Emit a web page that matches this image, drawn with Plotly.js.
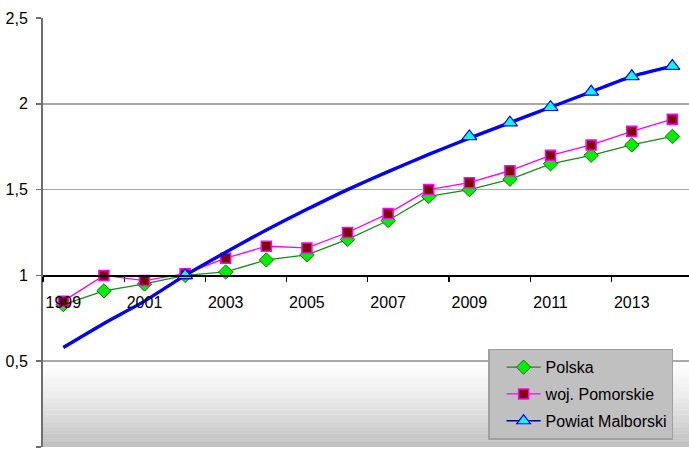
<!DOCTYPE html>
<html>
<head>
<meta charset="utf-8">
<script src="https://cdn.plot.ly/plotly-3.0.1.min.js"></script>
<style>
html,body{margin:0;padding:0;background:#fff;}
#chart{width:689px;height:451px;}
</style>
</head>
<body>
<div id="chart"></div>
<script>
const years = [1999,2000,2001,2002,2003,2004,2005,2006,2007,2008,2009,2010,2011,2012,2013,2014];
const polska = [0.83,0.91,0.95,1.00,1.02,1.09,1.12,1.21,1.32,1.46,1.50,1.56,1.65,1.70,1.76,1.81];
const pomorskie = [0.85,1.00,0.97,1.01,1.10,1.17,1.16,1.25,1.36,1.50,1.54,1.61,1.70,1.76,1.84,1.91];
const malborskiLine = [0.58,0.72,0.85,1.00,1.135,1.265,1.385,1.50,1.605,1.705,1.80,1.89,1.98,2.07,2.16,2.22];
const malborskiMarkerYears = [2002,2009,2010,2011,2012,2013,2014];
const malborskiMarkers = [1.00,1.81,1.89,1.98,2.07,2.16,2.22];
const xLabelYears = [1999,2001,2003,2005,2007,2009,2011,2013];
const xLabelText = ['1999','2001','2003','2005','2007','2009','2011','2013'];
const xTickBoundaries = [1998.5,2000.5,2002.5,2004.5,2006.5,2008.5,2010.5,2012.5,2014.5];
const yTicks = [0,0.5,1,1.5,2,2.5];
const seriesNames = ['Polska','woj. Pomorskie','Powiat Malborski'];

const FONT = 'Liberation Sans, Arial, sans-serif';

// background gradient below 0.5 (white -> grey), drawn as thin bands
const gradShapes = [];
const BANDS = 50;
for (let i = 0; i < BANDS; i++) {
  const t = Math.pow((i + 0.5) / BANDS, 1.3);
  const c = Math.round(255 - t * (255 - 190));
  gradShapes.push({
    type: 'rect', xref: 'paper', yref: 'y', layer: 'below',
    x0: 0, x1: 1, y0: 0.5 - i * 0.5 / BANDS, y1: 0.5 - (i + 1) * 0.5 / BANDS - 0.002,
    fillcolor: 'rgb(' + c + ',' + c + ',' + c + ')', line: {width: 0}
  });
}

const traces = [
  {
    x: years, y: polska, name: seriesNames[0], type: 'scatter', mode: 'lines+markers',
    legendgroup: 'a',
    line: {color: '#1a8a1a', width: 1.3},
    marker: {symbol: 'diamond', size: 11, color: '#00ee00', line: {color: '#0b7a0b', width: 1}}
  },
  {
    x: years, y: pomorskie, name: seriesNames[1], type: 'scatter', mode: 'lines+markers',
    legendgroup: 'b',
    line: {color: '#ff00ff', width: 1.3},
    marker: {symbol: 'square', size: 10, color: '#800000', line: {color: '#ff00ff', width: 1.5}}
  },
  {
    x: years, y: malborskiLine, name: seriesNames[2], type: 'scatter', mode: 'lines',
    legendgroup: 'c', showlegend: false,
    line: {color: '#0000ff', width: 3.4, shape: 'spline', smoothing: 0.5}
  },
  {
    x: malborskiMarkerYears, y: malborskiMarkers, name: seriesNames[2], type: 'scatter', mode: 'markers',
    legendgroup: 'c', showlegend: false,
    marker: {symbol: 'triangle-up', size: 13, color: '#00ffff', line: {color: '#0000ff', width: 1.2}}
  },
  {
    x: [null], y: [null], name: seriesNames[2], type: 'scatter', mode: 'lines+markers',
    legendgroup: 'c',
    line: {color: '#000080', width: 1.3},
    marker: {symbol: 'triangle-up', size: 12, color: '#00ffff', line: {color: '#0000ff', width: 1.2}}
  }
];

const layout = {
  width: 689, height: 451,
  margin: {l: 43, r: 0, t: 18, b: 4, pad: 0},
  paper_bgcolor: '#ffffff',
  plot_bgcolor: 'rgba(0,0,0,0)',
  separators: ', ',
  font: {family: FONT, size: 16, color: '#000000'},
  showlegend: true,
  hovermode: false,
  xaxis: {
    type: 'linear',
    range: [1998.5, 2014.41],
    anchor: 'free', position: 0.4,
    showline: true, linecolor: '#000000', linewidth: 1.5,
    showgrid: false, zeroline: false,
    tickmode: 'array', tickvals: xLabelYears, ticktext: xLabelText,
    ticks: '', ticklabelstandoff: 12,
    tickfont: {family: FONT, size: 16, color: '#000000'},
    minor: {tickmode: 'array', tickvals: xTickBoundaries, ticks: 'outside', ticklen: 5, tickwidth: 1.2, tickcolor: '#000000', showgrid: false}
  },
  yaxis: {
    range: [0, 2.5],
    tickmode: 'array', tickvals: yTicks,
    showline: true, linecolor: '#6e6e6e', linewidth: 2,
    ticks: 'outside', ticklen: 5, tickwidth: 1.5, tickcolor: '#6e6e6e',
    showgrid: true, gridcolor: '#a8a8a8', gridwidth: 1.5,
    zeroline: false,
    ticklabelstandoff: 5,
    tickfont: {family: FONT, size: 16, color: '#000000'}
  },
  legend: {
    x: 0.689, y: 0.229, xanchor: 'left', yanchor: 'top',
    bgcolor: '#c0c0c0', bordercolor: '#a0a0a0', borderwidth: 1.5,
    font: {family: FONT, size: 16, color: '#000000'},
    traceorder: 'grouped', tracegroupgap: 3,
    itemsizing: 'trace', indentation: 12, itemwidth: 34
  },
  shapes: gradShapes
};

Plotly.newPlot('chart', traces, layout, {displayModeBar: false, staticPlot: true});
</script>
</body>
</html>
